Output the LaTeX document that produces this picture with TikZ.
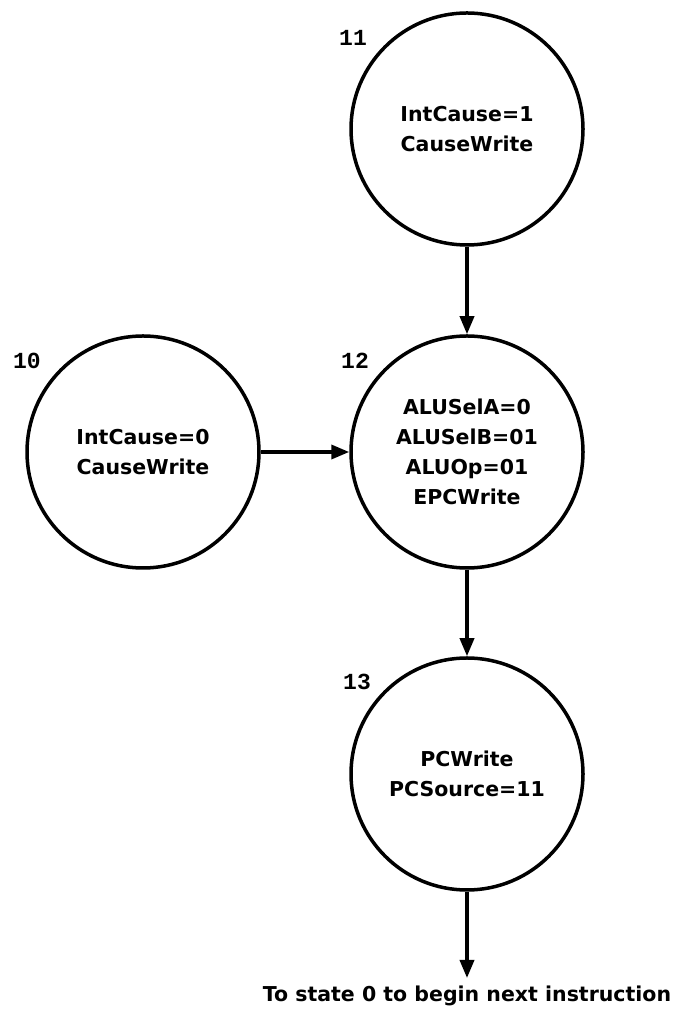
\documentclass[tikz,border=0pt]{standalone}
\usepackage{fontspec}
\setmainfont{DejaVu Sans}
\newfontfamily\numfont{Liberation Mono}
\usetikzlibrary{arrows.meta,calc}
\begin{document}
\begin{tikzpicture}[x=1pt,y=1pt,
  statecircle/.style={circle,draw,line width=3.5pt,minimum size=232pt,inner sep=0pt,
    align=center,font=\bfseries\fontsize{20.5}{30}\selectfont},
  statenum/.style={font=\numfont\bfseries\fontsize{23}{23}\selectfont},
  flow/.style={line width=3.5pt,-{Triangle[length=18pt,width=14pt]}}]
\useasboundingbox (0,0) rectangle (674,1015);
% exception-handling states
\node[statecircle] (s11) at (467,886) {IntCause=1\\CauseWrite};
\node[statecircle] (s12) at (467,563) {ALUSelA=0\\ALUSelB=01\\ALUOp=01\\EPCWrite};
\node[statecircle] (s10) at (143,563) {IntCause=0\\CauseWrite};
\node[statecircle] (s13) at (467,241) {PCWrite\\PCSource=11};
% state numbers
\node[statenum] (n11) at ($(s11)+(-114,91)$) {11};
\node[statenum] (n12) at ($(s12)+(-112,91)$) {12};
\node[statenum] (n10) at ($(s10)+(-116,91)$) {10};
\node[statenum] (n13) at ($(s13)+(-110,92)$) {13};
% transitions
\coordinate (exit) at (467,37);
\draw[flow] (s11) -- (s12);
\draw[flow] (s10) -- (s12);
\draw[flow] (s12) -- (s13);
\draw[flow] (s13) -- (exit);
\node[font=\bfseries\fontsize{20.5}{24}\selectfont,anchor=north] (next) at ($(exit)+(0,-4)$) {To state 0 to begin next instruction};
\end{tikzpicture}
\end{document}
